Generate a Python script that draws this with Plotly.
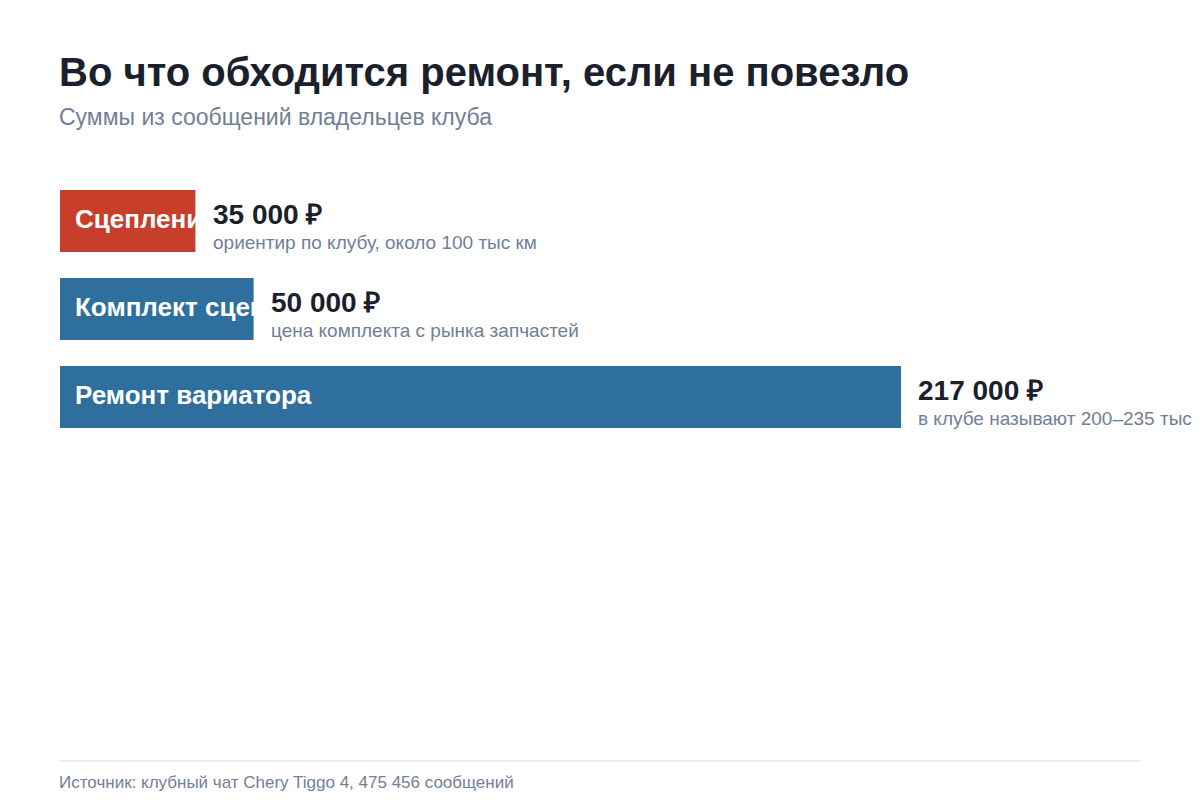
import plotly.graph_objects as go

labels = ["Сцепление", "Комплект сцепления", "Ремонт вариатора"]
values = [35000, 50000, 217000]
value_text = ["35 000 ₽", "50 000 ₽", "217 000 ₽"]
notes = ["ориентир по клубу, около 100 тыс км", "цена комплекта с рынка запчастей", "в клубе называют 200–235 тыс"]
colors = ["#c73f2b", "#2e6f9e", "#2e6f9e"]

OFF = 8  # page body margin
W, H = 1200, 800
L, R, T, B = 60 - OFF, 60 + OFF, 177 - OFF, 50 + OFF
pw = W - L - R
xmax = 217000 * pw / 841
px = xmax / pw
ph = H - T - B
FONT = "Liberation Sans, Arial"

def py(y):
    return (H - B - (y - OFF)) / ph

fig = go.Figure()
fig.add_trace(go.Bar(y=list(range(3)), x=values, orientation="h", marker=dict(color=colors, line_width=0),
                     width=62/88, hoverinfo="skip"))
fig.add_trace(go.Scatter(y=list(range(3)), x=[15*px]*3, mode="text", text=labels, textposition="middle right",
                         textfont=dict(family=FONT, size=26, color="white", weight="bold"),
                         hoverinfo="skip", cliponaxis=False))
shapes = []
for i, v in enumerate(values):
    shapes.append(dict(type="rect", xref="x", yref="y", x0=v, x1=v+90*px, y0=i-31/88, y1=i+31/88,
                       fillcolor="white", line_width=0, layer="above"))
shapes.append(dict(type="line", xref="paper", yref="paper", x0=0, x1=1, y0=py(761), y1=py(761),
                   line=dict(color="#e2e8f0", width=1.5)))
ann = []
for i, v in enumerate(values):
    ann.append(dict(x=v, y=i, xref="x", yref="y", text=f"<b>{value_text[i]}</b>", showarrow=False,
                    xanchor="left", yanchor="middle", xshift=15, yshift=7,
                    font=dict(family=FONT, size=28, color="#1a202c")))
    ann.append(dict(x=v, y=i, xref="x", yref="y", text=notes[i], showarrow=False,
                    xanchor="left", yanchor="middle", xshift=15, yshift=-21,
                    font=dict(family=FONT, size=19, color="#718096")))
ann.append(dict(x=0, y=py(72), xref="paper", yref="paper", text="<b>Во что обходится ремонт, если не повезло</b>",
                showarrow=False, xanchor="left", yanchor="middle", xshift=-3,
                font=dict(family=FONT, size=40, color="#1a202c")))
ann.append(dict(x=0, y=py(117), xref="paper", yref="paper", text="Суммы из сообщений владельцев клуба",
                showarrow=False, xanchor="left", yanchor="middle", xshift=-3,
                font=dict(family=FONT, size=23, color="#718096")))
ann.append(dict(x=0, y=py(782), xref="paper", yref="paper", text="Источник: клубный чат Chery Tiggo 4, 475 456 сообщений",
                showarrow=False, xanchor="left", yanchor="middle", xshift=-3,
                font=dict(family=FONT, size=17, color="#718096")))

fig.update_layout(width=W, height=H, margin=dict(l=L, r=R, t=T, b=B), plot_bgcolor="white", paper_bgcolor="white",
                  showlegend=False, shapes=shapes, annotations=ann,
                  xaxis=dict(range=[0, xmax], visible=False, fixedrange=True),
                  yaxis=dict(range=[(ph/88)-0.5, -0.5], visible=False, fixedrange=True))
fig.write_html("out.html", config={"displayModeBar": False})
